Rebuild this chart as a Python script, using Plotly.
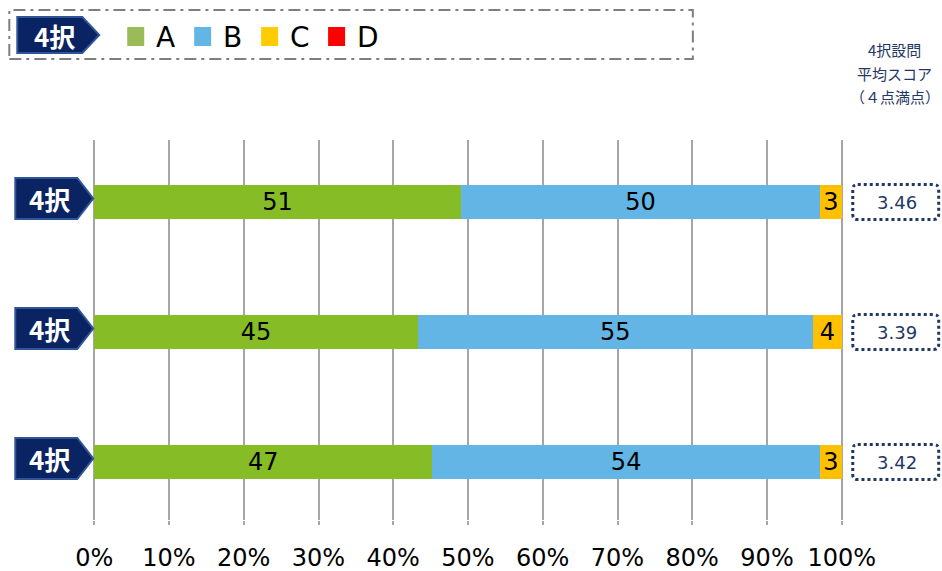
import plotly.graph_objects as go

# ---- data ----
rows = [0, 1, 2]
row_label = "4択"
series_names = ["A", "B", "C", "D"]
series_values = {
    "A": [51, 45, 47],
    "B": [50, 55, 54],
    "C": [3, 4, 3],
    "D": [0, 0, 0],
}
avg_scores = ["3.46", "3.39", "3.42"]
score_header = ["4択設問", "平均スコア", "（４点満点）"]
tick_vals = [0, 10, 20, 30, 40, 50, 60, 70, 80, 90, 100]
tick_text = [f"{v}%" for v in tick_vals]

# ---- styling ----
bar_colors = {"A": "#86BC25", "B": "#63B5E5", "C": "#FFC000", "D": "#FF0000"}
legend_colors = {"A": "#9BBB59", "B": "#63B5E5", "C": "#FFCC00", "D": "#FF0000"}
NAVY = "#0A2463"
NAVY_EDGE = "#2F5597"
SCORE_COLOR = "#1F3864"
W, H = 942, 571
X0_PX, X100_PX = 94, 842          # pixel columns of 0% and 100%
T, B = 140, 51
ROW_PX = 130.0
PAD = 0.3                          # small x padding so edge gridlines are kept

unit = (X100_PX - X0_PX) / 100.0
L = X0_PX - PAD * unit
R = W - (X100_PX + PAD * unit)


def px_x(px):
    return (px - L) / (W - L - R)


def px_y(py):
    return (H - B - py) / (H - T - B)


fig = go.Figure()
for name in series_names:
    vals = series_values[name]
    fig.add_trace(go.Bar(
        y=rows, x=vals, orientation="h", name=name,
        marker=dict(color=bar_colors[name], line=dict(width=0)),
        width=0.26,
        text=[str(v) if v else "" for v in vals],
        texttemplate="%{text}",
        textposition="inside", insidetextanchor="middle",
        textangle=0, constraintext="none",
        textfont=dict(family="DejaVu Sans", size=24, color="#000000"),
        showlegend=False, hoverinfo="skip",
    ))

shapes = []
annotations = []

# row badges and score boxes
for r, score in zip(rows, avg_scores):
    top = r - 24 / ROW_PX
    bot = r + 17 / ROW_PX
    mid = (top + bot) / 2
    x0, x1, x2 = px_x(15), px_x(77), px_x(93)
    shapes.append(dict(
        type="path", xref="paper", yref="y",
        path=f"M {x0},{top} L {x1},{top} L {x2},{mid} L {x1},{bot} L {x0},{bot} Z",
        fillcolor=NAVY, line=dict(color=NAVY_EDGE, width=2), layer="above",
    ))
    annotations.append(dict(
        xref="paper", yref="y", x=px_x(49), y=mid, text=f"<b>{row_label}</b>",
        showarrow=False, xanchor="center", yanchor="middle",
        font=dict(family="Noto Sans CJK JP", size=26, color="#FFFFFF"),
    ))
    # dotted rounded score box
    bx0, bx1 = px_x(853), px_x(939)
    by0, by1 = r - 17.5 / ROW_PX, r + 17.5 / ROW_PX
    rx, ry = px_x(853 + 5) - px_x(853), 5 / ROW_PX
    path = (f"M {bx0 + rx},{by0} L {bx1 - rx},{by0} Q {bx1},{by0} {bx1},{by0 + ry} "
            f"L {bx1},{by1 - ry} Q {bx1},{by1} {bx1 - rx},{by1} "
            f"L {bx0 + rx},{by1} Q {bx0},{by1} {bx0},{by1 - ry} "
            f"L {bx0},{by0 + ry} Q {bx0},{by0} {bx0 + rx},{by0} Z")
    shapes.append(dict(
        type="path", xref="paper", yref="y", path=path,
        line=dict(color=SCORE_COLOR, width=3, dash="dot"),
    ))
    annotations.append(dict(
        xref="paper", yref="y", x=px_x(897), y=r, text=score,
        showarrow=False, xanchor="center", yanchor="middle",
        font=dict(family="DejaVu Sans", size=18, color=SCORE_COLOR),
    ))

# score column header
for line, py in zip(score_header, [50, 73, 96]):
    annotations.append(dict(
        xref="paper", yref="paper", x=px_x(895), y=px_y(py), text=line,
        showarrow=False, xanchor="center", yanchor="middle",
        font=dict(family="Noto Sans CJK JP", size=15, color=SCORE_COLOR),
    ))

# legend frame
shapes.append(dict(
    type="rect", xref="paper", yref="paper",
    x0=px_x(9), x1=px_x(693), y0=px_y(59), y1=px_y(10),
    line=dict(color="#7F7F7F", width=2, dash="12px,5px,3px,5px"),
))
# legend badge
lx0, lx1, lx2 = px_x(17), px_x(82), px_x(99)
ly0, ly1 = px_y(17), px_y(53)
lmid = (ly0 + ly1) / 2
shapes.append(dict(
    type="path", xref="paper", yref="paper",
    path=f"M {lx0},{ly0} L {lx1},{ly0} L {lx2},{lmid} L {lx1},{ly1} L {lx0},{ly1} Z",
    fillcolor=NAVY, line=dict(color=NAVY_EDGE, width=2),
))
annotations.append(dict(
    xref="paper", yref="paper", x=px_x(54), y=lmid, text=f"<b>{row_label}</b>",
    showarrow=False, xanchor="center", yanchor="middle",
    font=dict(family="Noto Sans CJK JP", size=26, color="#FFFFFF"),
))
# legend entries
for i, name in enumerate(series_names):
    sx = 127 + 67 * i
    shapes.append(dict(
        type="rect", xref="paper", yref="paper",
        x0=px_x(sx), x1=px_x(sx + 17), y0=px_y(46), y1=px_y(27),
        fillcolor=legend_colors[name], line=dict(width=0),
    ))
    annotations.append(dict(
        xref="paper", yref="paper", x=px_x(sx + 27), y=px_y(37.5), text=name,
        showarrow=False, xanchor="left", yanchor="middle",
        font=dict(family="DejaVu Sans", size=28, color="#000000"),
    ))

fig.update_layout(
    width=W, height=H,
    margin=dict(l=L, r=R, t=T, b=B, autoexpand=False),
    barmode="stack", barnorm="percent",
    plot_bgcolor="#FFFFFF", paper_bgcolor="#FFFFFF",
    font=dict(family="DejaVu Sans", color="#000000"),
    shapes=shapes, annotations=annotations,
    xaxis=dict(
        range=[-PAD, 100 + PAD], tickvals=tick_vals, ticktext=tick_text,
        showgrid=True, gridcolor="#A6A6A6", gridwidth=2,
        zeroline=False, showline=False,
        ticks="outside", ticklen=4, tickcolor="#A6A6A6", tickwidth=1.5,
        ticklabelstandoff=12, automargin=False,
        tickfont=dict(family="DejaVu Sans", size=24, color="#000000"),
        fixedrange=True,
    ),
    yaxis=dict(
        range=[2 + 58 / ROW_PX, -62 / ROW_PX], automargin=False,
        showticklabels=False, showgrid=False, zeroline=False,
        showline=False, ticks="", fixedrange=True,
    ),
)

fig.write_html("out.html")
